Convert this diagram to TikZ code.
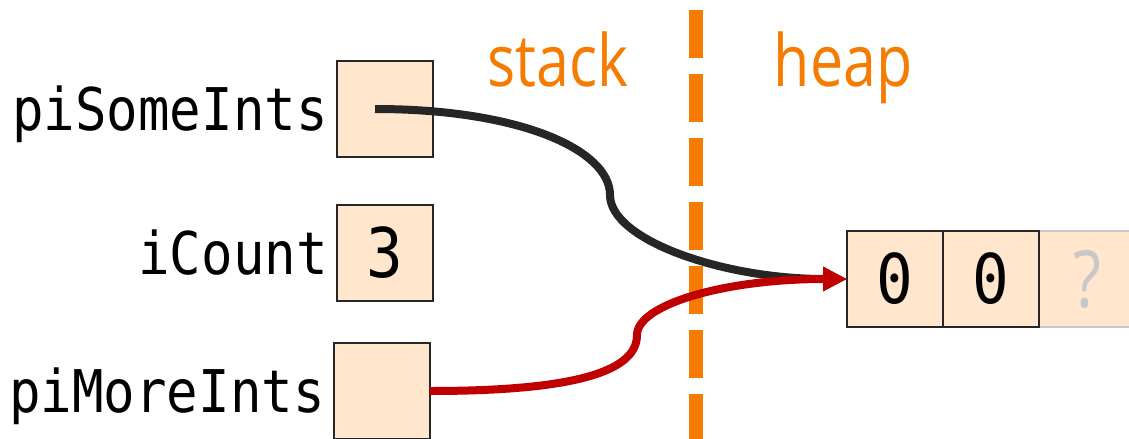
\documentclass[tikz,border=0pt]{standalone}
\usepackage{fontspec}
\usetikzlibrary{arrows.meta,positioning}
\newfontfamily\codefont[FakeStretch=0.89]{DejaVu Sans Mono}
\newfontfamily\sidefont[FakeStretch=0.82]{Open Sans}
\definecolor{cellfill}{HTML}{FFE6CC}
\definecolor{cellline}{HTML}{262626}
\definecolor{sideorange}{HTML}{F57C00}
\definecolor{ptrred}{HTML}{C00000}
\definecolor{ptrdark}{HTML}{262626}
\definecolor{unknowngray}{HTML}{C8C8C8}

\begin{document}
\begin{tikzpicture}[x = 0.02cm, y = -0.02cm,
  cell/.style = {draw = cellline, fill = cellfill, line width = 0.04cm, minimum size = 1.92cm,
    inner sep = 0pt, outer sep = 0pt, font = \codefont\fontsize{39}{46}\selectfont,
    text height = 28.4pt, text depth = 0pt},
  varname/.style = {font = \codefont\fontsize{33.5}{40}\selectfont, inner sep = 0pt,
    text height = 24.4pt, text depth = 0pt},
  region/.style = {text = sideorange, font = \sidefont\fontsize{41}{48}\selectfont,
    inner sep = 0pt, anchor = base},
  ptr/.style = {line width = 0.16cm, -{Triangle[length = 0.48cm, width = 0.46cm]}}]
\useasboundingbox (0,0) rectangle (1129,439);
\clip (0,0) rectangle (1129,439);
% stack | heap
\draw [sideorange, line width = 0.28cm, dash pattern = on 0.96cm off 0.32cm] (696,10) -- (696,470);
\node [region] (stack) at (558,87) {stack};
\node [region] (heap) at (843,87) {heap};
% stack variables
\node [cell] (some) at (385,109) {};
\node [cell] (count) at (385,253) {3};
\node [cell] (more) at (382,391) {};
\node [varname, left = 0.18cm of some] (somename) {piSomeInts};
\node [varname, left = 0.18cm of count] (countname) {iCount};
\node [varname, left = 0.18cm of more] (morename) {piMoreInts};
% heap array
\node [cell, draw = none, text = unknowngray, font = \sidefont\fontsize{45}{52}\selectfont,
  text height = 32pt] (c2) at (1087,279) {?};
\draw [unknowngray, line width = 0.04cm] (c2.north west) -- (c2.north east) (c2.south west) -- (c2.south east);
\node [cell] (c0) at (895,279) {0};
\node [cell, right = 0pt of c0] (c1) {0};
% pointers
\coordinate (somebend) at (610,195);
\coordinate (morebend) at (637,335);
\draw [ptr, ptrdark] ([xshift = -0.2cm]some.center) .. controls +(145,0) and +(0,-45) .. (somebend)
  .. controls +(0,45) and +(-124,0) .. (c0.west);
\draw [ptr, ptrred] (more.east) .. controls +(150,0) and +(0,35) .. (morebend)
  .. controls +(0,-30) and +(-124,0) .. (c0.west);
\end{tikzpicture}
\end{document}
